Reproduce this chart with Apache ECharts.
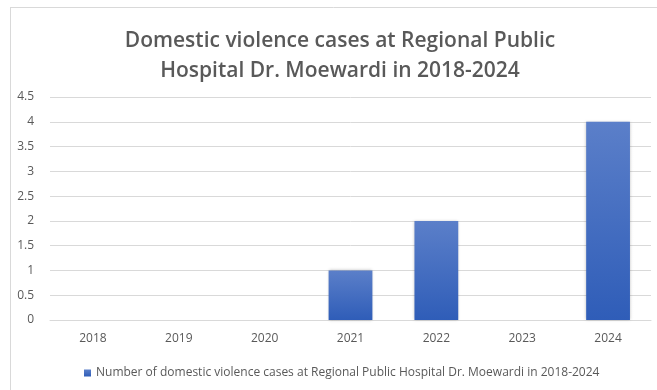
<!DOCTYPE html>
<html>
<head>
<meta charset="utf-8">
<script src="https://cdn.jsdelivr.net/npm/echarts@6/dist/echarts.min.js"></script>
<style>
html,body{margin:0;padding:0;background:#fff;}
#chart{width:657px;height:390px;}
</style>
</head>
<body>
<div id="chart"></div>
<script>
const titleLines = ["Domestic violence cases at Regional Public", "Hospital Dr. Moewardi in 2018-2024"];
const categories = ["2018", "2019", "2020", "2021", "2022", "2023", "2024"];
const seriesName = "Number of domestic violence cases at Regional Public Hospital Dr. Moewardi in 2018-2024";
const values = [0, 0, 0, 1, 2, 0, 4];
const yTicks = {min: 0, max: 4.5, interval: 0.5};

const chart = echarts.init(document.getElementById('chart'), null, {renderer: 'canvas'});
const font = "'Open Sans', 'Liberation Sans', sans-serif";
chart.setOption({
  animation: false,
  backgroundColor: '#ffffff',
  textStyle: {fontFamily: font},
  title: {
    text: titleLines.join('\n'),
    left: 335,
    textAlign: 'center',
    top: 21,
    textStyle: {fontFamily: font, fontSize: 21, fontWeight: 600, color: '#595959', lineHeight: 30}
  },
  graphic: [
    {type: 'line', shape: {x1: 10, y1: 7.5, x2: 657, y2: 7.5}, style: {stroke: '#d9d9d9', lineWidth: 1}, silent: true},
    {type: 'line', shape: {x1: 10.5, y1: 7, x2: 10.5, y2: 390}, style: {stroke: '#d9d9d9', lineWidth: 1}, silent: true}
  ],
  legend: {
    data: [seriesName],
    left: 79,
    top: 362,
    itemWidth: 7,
    itemHeight: 7,
    itemGap: 4,
    icon: 'rect',
    textStyle: {fontFamily: font, fontSize: 12, color: '#595959'}
  },
  grid: {left: 50, right: 6, top: 97, bottom: 70, containLabel: false},
  xAxis: {
    type: 'category',
    data: categories,
    axisLine: {lineStyle: {color: '#d9d9d9'}},
    axisTick: {show: false},
    axisLabel: {color: '#595959', fontSize: 12, margin: 13, fontFamily: font}
  },
  yAxis: {
    type: 'value',
    min: yTicks.min,
    max: yTicks.max,
    interval: yTicks.interval,
    axisLine: {show: false},
    axisTick: {show: false},
    splitLine: {lineStyle: {color: '#d9d9d9'}},
    axisLabel: {color: '#595959', fontSize: 12, margin: 16, fontFamily: font}
  },
  series: [{
    name: seriesName,
    type: 'bar',
    data: values,
    barCategoryGap: '49%',
    itemStyle: {
      color: new echarts.graphic.LinearGradient(0, 0, 0, 1, [
        {offset: 0, color: '#5b7fc9'},
        {offset: 1, color: '#2f5db8'}
      ]),
      shadowColor: 'rgba(0,0,0,0.25)',
      shadowBlur: 3,
      shadowOffsetX: 0,
      shadowOffsetY: 0
    }
  }]
});
</script>
</body>
</html>
